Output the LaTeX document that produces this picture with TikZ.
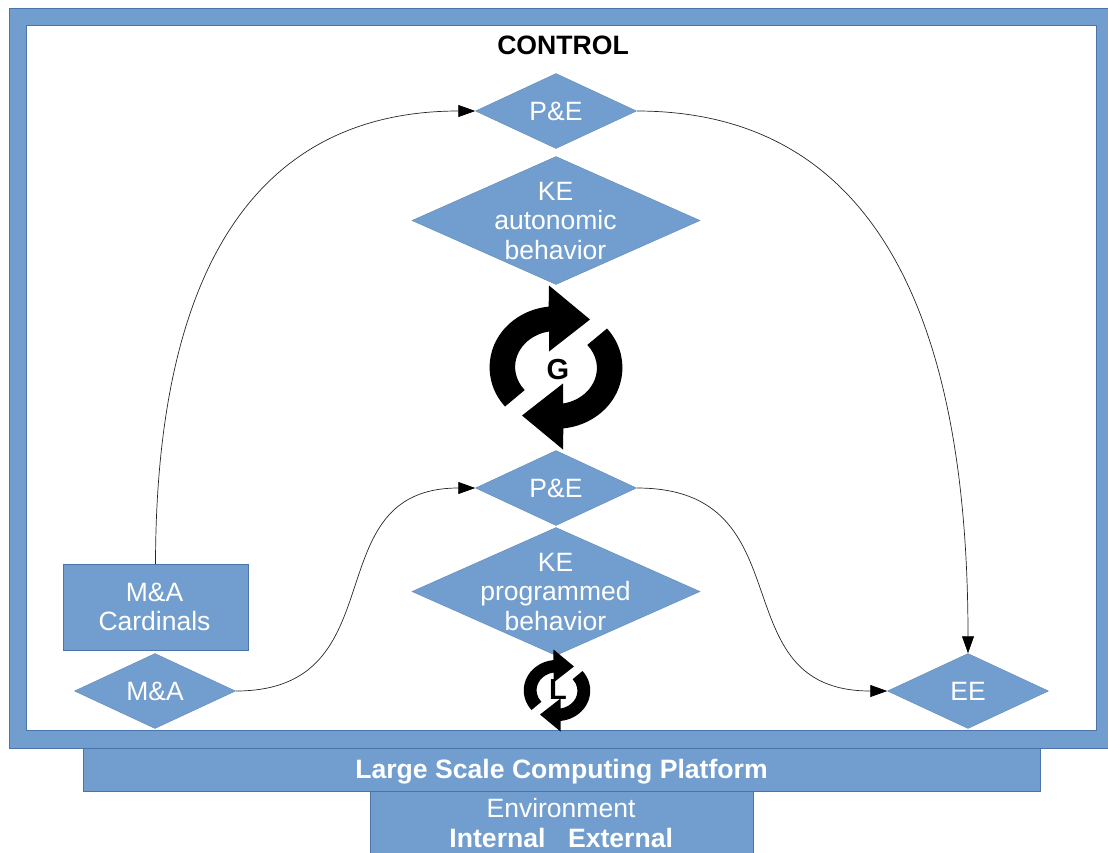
\documentclass[tikz,border=0pt]{standalone}
\usepackage{fontspec}
\setmainfont{Liberation Sans}
\usetikzlibrary{shapes.geometric,arrows.meta}
\definecolor{boxfill}{HTML}{729ECF}
\definecolor{boxline}{HTML}{4A74AA}
\tikzset{
  x=1pt,y=-1pt,
  dia/.style={diamond,aspect=2,fill=boxfill,draw=boxfill!90!black,line width=.5pt,inner sep=0pt},
  smalldia/.style={dia,minimum width=161pt,minimum height=75pt},
  bigdia/.style={dia,minimum width=288pt,minimum height=128pt},
  txt/.style={text=white,font=\fontsize{26.5}{29.5}\selectfont,align=center,inner sep=0pt},
  boldtxt/.style={txt,font=\fontsize{26.6}{30}\selectfont\bfseries},
  rectbox/.style={rectangle,fill=boxfill,draw=boxline,line width=.8pt,inner sep=0pt},
  conn/.style={draw=black!85,line width=.7pt,-{Triangle[length=17pt,width=12pt,color=black]}},
  cyc/.pic={
    \begin{scope}[y=1pt,x=1pt]
      \fill[black] (-51,-39) arc[start angle=220,end angle=96,x radius=66,y radius=61]
        -- (-7,82) -- (34,48) -- (-7,16) -- (-7,36)
        arc[start angle=100,end angle=220,x radius=41,y radius=36] -- cycle;
      \fill[black] (51,39) arc[start angle=40,end angle=-84,x radius=66,y radius=61]
        -- (7,-82) -- (-34,-48) -- (7,-16) -- (7,-36)
        arc[start angle=-80,end angle=40,x radius=41,y radius=36] -- cycle;
    \end{scope}
  }
}
\begin{document}
\begin{tikzpicture}
\useasboundingbox (0,0.5) rectangle (1108,852.5);
% platform frames
\fill[boxfill,draw=boxline,line width=.8pt,even odd rule]
  (9,9) rectangle (1108,749) (26,26) rectangle (1096,731);
\node[rectbox,minimum width=957pt,minimum height=43pt] (platform) at (561.5,770.5) {};
\node[boldtxt] (platformtxt) at (561.5,772) {Large Scale Computing Platform};
\node[rectbox,minimum width=383pt,minimum height=62pt] (env) at (561.5,823) {};
\node[txt] (envtxt) at (561,808.5) {Environment};
\node[boldtxt] (inttxt) at (497.5,838.5) {Internal};
\node[boldtxt] (exttxt) at (620.5,838.5) {External};
\node[font=\fontsize{26.6}{30}\selectfont\bfseries,text=black,inner sep=0pt] (control) at (563,45.5) {CONTROL};
% diamonds
\node[smalldia] (pe1) at (556,111.5) {};
\node[txt] (pe1t) at (pe1) {P\&E};
\node[bigdia] (ke1) at (556,221) {};
\node[txt] (ke1t) at (555.5,221.5) {KE\\autonomic\\behavior};
\node[smalldia] (pe2) at (556,488.5) {};
\node[txt] (pe2t) at (pe2) {P\&E};
\node[bigdia] (ke2) at (556,592) {};
\node[txt] (ke2t) at (555.5,592.5) {KE\\programmed\\behavior};
\node[smalldia] (ma) at (155,691.5) {};
\node[txt] (mat) at (ma) {M\&A};
\node[smalldia] (ee) at (968,691.5) {};
\node[txt] (eet) at (ee) {EE};
\node[rectbox,minimum width=185pt,minimum height=86pt] (card) at (155.5,608) {};
\node[txt] (cardt) at (154.5,607.5) {M\&A\\Cardinals};
% cycles
\pic at (556,368) {cyc};
\node[font=\fontsize{29}{30}\selectfont\bfseries,text=black,inner sep=0pt] (g) at (558,370) {G};
\pic[scale=.5] at (557,691) {cyc};
\node[font=\fontsize{29}{30}\selectfont\bfseries,text=black,inner sep=0pt] (l) at (558,690.5) {L};
% connectors
\draw[conn] (card.north) .. controls (156,250) and (270,111.5) .. (pe1.west);
\draw[conn] (pe1.east) .. controls (850,111.5) and (968,277) .. (ee.north);
\draw[conn] (ma.east) .. controls (400,691.5) and (312,488.5) .. (pe2.west);
\draw[conn] (pe2.east) .. controls (809,488.5) and (717,691.5) .. (ee.west);
\end{tikzpicture}
\end{document}
